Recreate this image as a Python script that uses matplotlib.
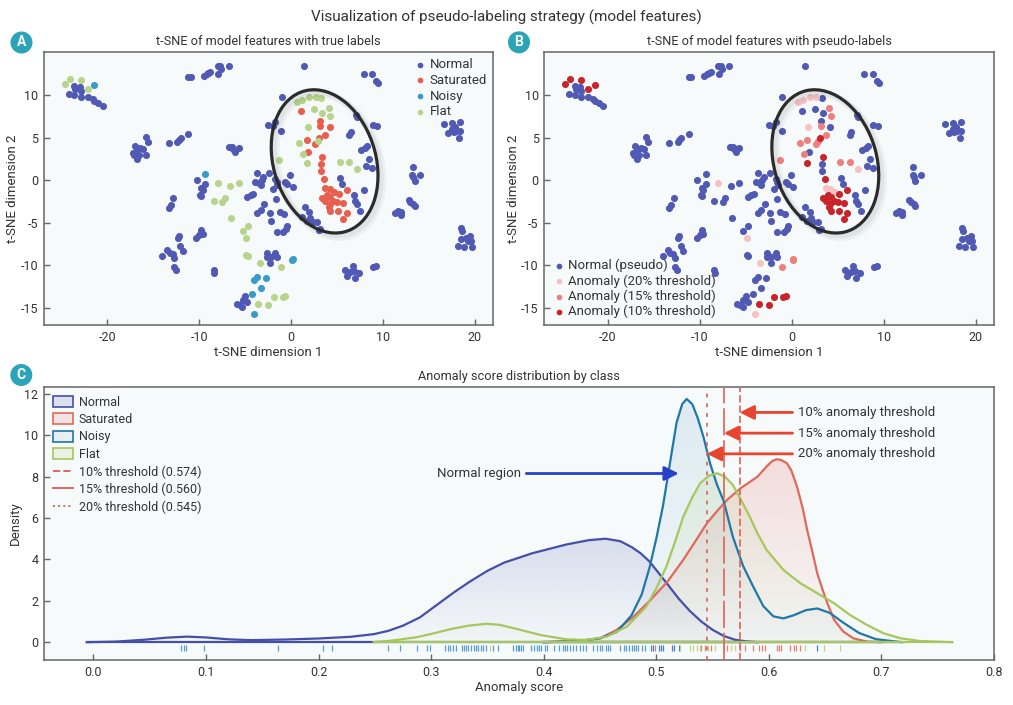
import numpy as np
import matplotlib
matplotlib.use('Agg')
import matplotlib.pyplot as plt
from matplotlib.patches import Ellipse, Circle, Patch, PathPatch
from matplotlib.lines import Line2D
from matplotlib.colors import to_rgb

plt.rcParams['font.family'] = ['Roboto', 'DejaVu Sans']
plt.rcParams['axes.unicode_minus'] = False

# ---- t-SNE points ----
normal_x = [-24.2, -23.6, -23.5, -23.0, -22.9, -23.6, -22.9, -22.1, -21.6, -21.4, -21.0, -20.5,
            -11.2, -10.9, -9.5, -9.2, -9.0, -8.8, -8.0, -7.7, -7.9, -7.6, -6.8,
            -17.0, -16.8, -16.4, -16.1, -17.2, -17.1, -16.8, -16.6, -15.8, -15.8, -15.6,
            -13.3, -12.4, -12.2, -12.0, -11.2, -6.7, -6.3, -6.1, -5.7, -6.4,
            1.4, 7.9, 8.8, 9.3, 9.5, -1.0, 7.1, 7.2, 8.9, 9.4, 6.3, 6.5, -2.5, -2.0, -1.7, -1.1,
            16.7, 17.5, 18.4, 17.1, 17.5, 18.0, 18.4, 18.3, 17.7, 17.9,
            7.6, 8.1, 8.3, 8.5, 8.8, 8.2,
            -10.25, -9.8, -9.9, -9.75, -9.6, -9.35, -12.8, -13.1, -13.3,
            -3.7, -3.9, -3.45, -3.2, -3.0, -3.3, -2.35, -1.7, -1.55, -1.5, -1.95, -1.6, -1.25, -0.75,
            -0.65, -0.4, -0.1, 0.2, -4.75, -4.4, -4.1, -2.9, -3.3, -3.7, -2.2, -2.3, -1.55, -0.85,
            -0.55, -0.4, -10.3, -10.0, -9.75, -9.6,
            -14.0, -13.5, -13.2, -12.9, -12.7, -12.7, -12.5, -12.35, -12.2, -12.05, -11.8, -8.4, -8.35,
            -2.65, -2.5, -2.65, -2.2, -1.7, -1.55, -2.25,
            -5.9, -5.6, -5.25, -5.0, -4.8, -5.3,
            5.35, 5.55, 6.9, 7.0, 7.2, 7.5, 8.0, 1.5, 2.0, 2.05, 1.15, 1.7, 2.35, 2.85, 3.0, 3.15,
            13.25, 13.2, 13.3, 13.45, 14.1, 12.8, 12.95, 13.3, 13.45, 11.3, 11.65, 11.95, 12.0,
            5.85, 6.05, 6.4, 6.7, 6.9, 7.0, 7.4, 8.95, 9.25,
            18.55, 18.65, 18.2, 18.85, 19.1, 19.45, 19.65, 19.75, 18.55, 19.3]
normal_y = [10.1, 11.1, 10.7, 10.9, 10.5, 10.0, 9.7, 9.8, 9.5, 9.3, 9.1, 8.7,
            12.1, 12.1, 12.2, 12.4, 12.6, 12.7, 13.4, 13.4, 12.5, 13.0, 13.4,
            4.0, 3.7, 3.8, 3.7, 3.2, 2.9, 2.5, 2.9, 2.9, 5.1, 4.5,
            4.35, 4.5, 4.7, 4.9, 5.4, 3.9, 3.6, 3.3, 3.8, 3.9,
            13.45, 12.5, 12.5, 11.6, 11.4, 9.8, 7.6, 7.4, 6.5, 6.3, 5.3, 5.6, 6.5, 6.4, 6.8, 5.8,
            6.6, 6.7, 6.8, 5.5, 6.0, 5.8, 5.8, 5.0, 5.6, 6.2,
            3.5, 3.8, 4.0, 2.5, 1.45, 1.7,
            0.0, -0.9, -1.7, -1.9, -1.2, -0.4, -2.1, -2.9, -3.25,
            0.85, -0.25, -0.35, 0.05, 0.35, -0.6, 0.8, 0.15, -0.25, -0.55, -1.05, -2.2, -3.75, -4.0,
            -0.25, -0.5, 0.65, -0.8, -2.0, -1.8, -1.6, -2.8, -3.45, -3.85, -4.75, -3.9, -6.1, -6.1,
            -5.75, -5.4, -6.8, -6.4, -5.9, -6.3,
            -8.9, -8.15, -8.55, -8.65, -9.15, -10.25, -10.6, -6.8, -6.5, -7.7, -8.35, -10.55, -10.85,
            -8.6, -8.9, -9.05, -9.05, -8.6, -9.05, -9.7,
            -14.55, -14.6, -14.1, -13.55, -14.35, -14.85,
            0.3, -0.5, -1.8, -2.5, -2.85, -3.65, -1.2, -3.1, -3.75, -4.4, -4.35, -4.8, -4.95, -4.95, -5.9, -5.7,
            1.55, 0.65, 0.35, -0.15, 0.65, -2.3, -2.6, -2.85, -3.0, -3.85, -3.65, -4.05, -3.7,
            -10.6, -11.25, -10.8, -10.1, -10.7, -11.5, -10.9, -10.25, -10.1,
            -5.65, -6.0, -7.75, -7.9, -6.8, -6.55, -7.2, -7.8, -6.95, -7.1]

# pseudo label codes: 0 = normal (pseudo), 20 / 15 / 10 = anomaly at that threshold
sat_x = [1.1, 3.2, 3.2, 4.2, 1.7, 3.7, 2.6, 3.1, 1.9, 3.4, 3.3, 3.3, 3.6, 3.7, 4.2, 4.7,
         3.4, 3.95, 4.3, 5.2, 6.05, 3.7, 4.2, 4.6, 5.0, 4.1, 4.3, 5.1, 5.7, 6.05, 5.7]
sat_y = [8.1, 6.9, 6.3, 6.2, 4.7, 5.3, 4.2, 4.9, 3.3, 2.75, 1.9, 1.05, 0.15, -0.9, -1.0, -1.4,
         -2.1, -1.75, -2.0, -1.6, -1.15, -2.4, -2.8, -2.4, -2.6, -3.2, -3.6, -3.6, -2.7, -3.8, -4.55]
sat_pseudo = [0, 0, 15, 0, 15, 15, 15, 10, 0, 10, 0, 0, 10, 20, 20, 20,
              10, 10, 10, 10, 10, 10, 10, 10, 10, 10, 10, 10, 10, 10, 10]

flat_x = [-24.6, -24.1, -22.9, -22.1,
          0.7, 1.2, 2.0, 2.7, 3.3, 2.5, 3.4, 4.1, 4.3, 1.8, 0.9, 1.3, 1.7, 2.9, -1.3, 5.3, 6.3, 7.2,
          -8.0, -6.6, -5.7, -8.4, -7.5, -7.2, -6.5, -5.25, -4.7, -4.9, -4.85, -4.7, -3.4, -1.1,
          -1.9, -0.9, -0.6, -3.55, -2.5]
flat_y = [11.3, 11.9, 11.8, 10.7,
          9.2, 9.4, 9.8, 9.8, 9.6, 8.3, 7.9, 8.5, 7.5, 6.2, 4.35, 3.1, 2.0, 4.6, 2.4, 2.15, 2.15, 1.3,
          -0.3, -0.7, -0.3, -2.5, -2.6, -2.1, -4.5, -6.0, -5.4, -6.8, -8.75, -8.9, -9.7, -10.2,
          -13.7, -13.7, -13.65, -14.5, -14.6]
flat_pseudo = [10, 10, 10, 10,
               20, 20, 20, 20, 0, 0, 0, 15, 15, 20, 15, 15, 10, 15, 15, 15, 15, 20,
               20, 0, 0, 0, 0, 0, 0, 0, 0, 20, 0, 0, 20, 15,
               10, 10, 10, 10, 10]

noisy_x = [-21.4, -9.35, 0.1, 0.2, -4.0, -4.0, -3.65, -2.75, -3.3, -4.2]
noisy_y = [11.2, 0.67, -9.4, -9.2, -15.65, -11.7, -11.4, -11.5, -12.7, -13.4]
noisy_pseudo = [10, 0, 15, 15, 20, 0, 0, 0, 0, 0]

# ---- density curves ----
normal_kx = [-0.006, 0.02, 0.045, 0.065, 0.083, 0.10, 0.12, 0.14, 0.17, 0.20, 0.228, 0.249, 0.262,
             0.275, 0.29, 0.305, 0.32, 0.335, 0.35, 0.365, 0.39, 0.42, 0.44, 0.455, 0.468, 0.478,
             0.486, 0.494, 0.502, 0.51, 0.52, 0.53, 0.54, 0.55, 0.56, 0.57, 0.58, 0.59]
normal_ky = [0, 0.03, 0.12, 0.22, 0.27, 0.23, 0.14, 0.10, 0.13, 0.18, 0.26, 0.39, 0.55,
             0.80, 1.2, 1.8, 2.4, 2.95, 3.45, 3.85, 4.3, 4.72, 4.93, 5.0, 4.88, 4.6,
             4.3, 3.9, 3.35, 2.8, 2.1, 1.5, 1.0, 0.6, 0.3, 0.12, 0.04, 0.0]

sat_kx = [0.40, 0.43, 0.45, 0.465, 0.48, 0.495, 0.51, 0.524, 0.535, 0.545, 0.555, 0.563, 0.575,
          0.59, 0.598, 0.603, 0.607, 0.611, 0.616, 0.62, 0.625, 0.63, 0.634, 0.639, 0.643, 0.648,
          0.652, 0.658, 0.666, 0.675, 0.687, 0.70]
sat_ky = [0.0, 0.06, 0.19, 0.6, 1.24, 2.05, 2.93, 3.98, 4.9, 5.75, 6.4, 6.88, 7.44,
          8.0, 8.49, 8.75, 8.84, 8.8, 8.65, 8.3, 7.52, 6.5, 5.43, 4.3, 3.33, 2.5,
          1.88, 1.08, 0.52, 0.19, 0.03, 0.0]

noisy_kx = [0.40, 0.43, 0.45, 0.465, 0.478, 0.487, 0.494, 0.500, 0.506, 0.512, 0.518, 0.523,
            0.527, 0.532, 0.537, 0.542, 0.548, 0.554, 0.560, 0.568, 0.577, 0.586, 0.595, 0.604,
            0.613, 0.622, 0.633, 0.643, 0.654, 0.666, 0.68, 0.695, 0.718]
noisy_ky = [0.0, 0.05, 0.19, 0.5, 1.3, 2.3, 3.6, 5.0, 6.6, 8.6, 10.6, 11.5,
            11.75, 11.5, 10.8, 9.9, 8.6, 7.6, 6.8, 5.1, 3.7, 2.7, 1.75, 1.25,
            1.15, 1.3, 1.55, 1.63, 1.42, 0.95, 0.45, 0.15, 0.0]

flat_kx = [0.249, 0.265, 0.287, 0.30, 0.317, 0.333, 0.349, 0.361, 0.379, 0.397, 0.42, 0.438,
           0.456, 0.474, 0.491, 0.50, 0.509, 0.517, 0.524, 0.532, 0.539, 0.547, 0.554, 0.561,
           0.568, 0.575, 0.583, 0.59, 0.598, 0.613, 0.628, 0.643, 0.658, 0.672, 0.687, 0.702,
           0.717, 0.734, 0.763]
flat_ky = [0.0, 0.08, 0.24, 0.4, 0.63, 0.8, 0.89, 0.84, 0.6, 0.35, 0.14, 0.11,
           0.27, 0.76, 1.72, 2.6, 3.66, 4.9, 6.07, 7.0, 7.68, 8.05, 8.16, 8.0,
           7.6, 6.9, 6.07, 5.25, 4.46, 3.49, 2.85, 2.37, 1.88, 1.32, 0.84, 0.43,
           0.19, 0.06, 0.0]

# ---- rug values ----
normal_rug = [0.078, 0.080, 0.082, 0.098, 0.164, 0.204, 0.212, 0.262, 0.272, 0.287, 0.296, 0.299,
              0.312, 0.315, 0.317, 0.319, 0.322, 0.327, 0.329, 0.331, 0.333, 0.335, 0.338, 0.340,
              0.342, 0.344, 0.346, 0.349, 0.355, 0.359, 0.373, 0.375, 0.377, 0.378, 0.380, 0.382,
              0.389, 0.391, 0.394, 0.396, 0.398, 0.401, 0.403, 0.409, 0.414, 0.417, 0.419, 0.421,
              0.423, 0.426, 0.429, 0.432, 0.435, 0.438, 0.444, 0.447, 0.450, 0.452, 0.455, 0.457,
              0.459, 0.468, 0.471, 0.473, 0.476, 0.478, 0.480, 0.482, 0.484, 0.487, 0.490]
noisy_rug = [0.495, 0.497, 0.502, 0.504, 0.506, 0.514, 0.516, 0.520, 0.643]
sat_rug = [0.499, 0.540, 0.543, 0.549, 0.563, 0.574, 0.579, 0.586, 0.591, 0.594, 0.597, 0.607,
           0.609, 0.611, 0.619, 0.622, 0.624, 0.628]
flat_rug = [0.352, 0.521, 0.530, 0.533, 0.536, 0.539, 0.546, 0.552, 0.560, 0.566, 0.570,
            0.632, 0.649, 0.663]

thresholds = [0.574, 0.560, 0.545]
thr_names = ['10%', '15%', '20%']

# ---- colours ----
c_normal = '#5059b3'
c_sat = '#e6604d'
c_noisy = '#3a9ac8'
c_flat = '#b8d48c'
c_p20, c_p15, c_p10 = '#f5c2c2', '#ee8080', '#c9232b'
k_normal, k_sat, k_noisy, k_flat = '#4450a8', '#e0695b', '#1f78a8', '#a6c75e'
c_thr = '#dc6a5e'
txt = '#333333'
bg = '#f7fafb'

fig = plt.figure(figsize=(10.13, 7.05), dpi=100)
axA = fig.add_axes([0.0434, 0.539, 0.4433, 0.3868])
axB = fig.add_axes([0.5373, 0.539, 0.4439, 0.3868])
axC = fig.add_axes([0.0434, 0.0638, 0.9378, 0.3873])


def style(ax):
    ax.set_facecolor(bg)
    for s in ax.spines.values():
        s.set_color('#666666')
        s.set_linewidth(1.1)
    ax.tick_params(direction='in', length=4, width=1, color='#666666',
                   labelsize=9, labelcolor=txt, pad=4)


ms = 26
for ax in (axA, axB):
    style(ax)
    ax.set_xlim(-26.9, 22.0)
    ax.set_ylim(-17.0, 15.0)
    ax.set_xticks([-20, -10, 0, 10, 20])
    ax.set_yticks([-15, -10, -5, 0, 5, 10])
    ax.set_xlabel('t-SNE dimension 1', fontsize=9.5, color=txt, labelpad=2)
    ax.set_ylabel('t-SNE dimension 2', fontsize=9.5, color=txt, labelpad=1)
    for off, lw, a in [(0.45, 6, 0.04), (0.3, 4, 0.05)]:
        ax.add_patch(Ellipse((3.66 + off, 2.2 - off), 11.2, 17.1, angle=14, fill=False,
                             ec='black', lw=lw, alpha=a, zorder=4))
    ax.add_patch(Ellipse((3.66, 2.2), 11.2, 17.1, angle=14, fill=False,
                         ec='#2b2b2b', lw=2.3, zorder=5))

# panel A: true labels
axA.scatter(normal_x, normal_y, s=ms, c=c_normal, lw=0, label='Normal', zorder=3)
axA.scatter(sat_x, sat_y, s=ms, c=c_sat, lw=0, label='Saturated', zorder=3)
axA.scatter(noisy_x, noisy_y, s=ms, c=c_noisy, lw=0, label='Noisy', zorder=3)
axA.scatter(flat_x, flat_y, s=ms, c=c_flat, lw=0, label='Flat', zorder=3)
axA.set_title('t-SNE of model features with true labels', fontsize=9.2, color=txt, pad=5)
axA.legend(loc='upper right', frameon=False, fontsize=9.5, handletextpad=0.1,
           labelspacing=0.2, borderaxespad=0.05, markerscale=0.8, handlelength=1.2,
           labelcolor=txt)

# panel B: pseudo labels
ox = np.array(sat_x + flat_x + noisy_x)
oy = np.array(sat_y + flat_y + noisy_y)
op = np.array(sat_pseudo + flat_pseudo + noisy_pseudo)
bx = np.concatenate([normal_x, ox[op == 0]])
by = np.concatenate([normal_y, oy[op == 0]])
axB.scatter(bx, by, s=ms, c=c_normal, lw=0, label='Normal (pseudo)', zorder=3)
for code, col in [(20, c_p20), (15, c_p15), (10, c_p10)]:
    m = op == code
    axB.scatter(ox[m], oy[m], s=ms, c=col, lw=0, zorder=3,
                label=f'Anomaly ({code}% threshold)')
axB.set_title('t-SNE of model features with pseudo-labels', fontsize=9.2, color=txt, pad=5)
axB.legend(loc='lower left', frameon=False, fontsize=9.5, handletextpad=0.1,
           labelspacing=0.15, borderaxespad=0.1, markerscale=0.8, handlelength=1.2,
           labelcolor=txt)

# panel C: score densities
style(axC)


def gradient_fill(ax, xs, ys, color, a_top, a_bot, z):
    xs = np.asarray(xs)
    ys = np.asarray(ys)
    poly = ax.fill_between(xs, ys, 0, facecolor='none', edgecolor='none')
    clip = PathPatch(poly.get_paths()[0], transform=ax.transData, fc='none', ec='none')
    ax.add_patch(clip)
    img = np.zeros((200, 1, 4))
    img[..., :3] = to_rgb(color)
    img[:, 0, 3] = np.linspace(a_top, a_bot, 200)
    im = ax.imshow(img, extent=[xs.min(), xs.max(), 0, ys.max()], aspect='auto',
                   origin='upper', zorder=z)
    im.set_clip_path(clip)


curves = [(normal_kx, normal_ky, k_normal, 0.17), (sat_kx, sat_ky, k_sat, 0.2),
          (noisy_kx, noisy_ky, k_noisy, 0.12), (flat_kx, flat_ky, k_flat, 0.14)]
for i, (kx, ky, col, a) in enumerate(curves):
    gradient_fill(axC, kx, ky, col, a, 0.02, 1 + i * 0.1)
for i, (kx, ky, col, a) in enumerate(curves):
    axC.plot(kx, ky, color=col, lw=1.6, zorder=3 + i * 0.1)
    axC.plot([kx[0], kx[-1]], [0, 0], color=col, lw=1.6, zorder=3 + i * 0.1)

for vals, col in [(normal_rug, '#3d8cc6'), (noisy_rug, '#1f6fa8'), (sat_rug, '#e0695b'),
                  (flat_rug, '#b9cf6e')]:
    axC.plot(vals, [-0.27] * len(vals), '|', ms=5, mew=0.9, color=col, alpha=0.85, zorder=3)

styles = ['--', (0, (14, 2.5)), (0, (2, 3))]
for t, ls in zip(thresholds, styles):
    axC.axvline(t, color=c_thr, lw=1.4, ls=ls, alpha=0.9, zorder=4)

for t, name, y in zip(thresholds, thr_names, [11.1, 10.1, 9.1]):
    axC.annotate(f'{name} anomaly threshold', xy=(t, y), xytext=(0.626, y),
                 fontsize=9.5, color=txt, va='center', ha='left',
                 arrowprops=dict(arrowstyle='-|>,head_length=0.9,head_width=0.45',
                                 color='#e8452e', lw=2, shrinkA=2, shrinkB=0), zorder=6)
axC.annotate('Normal region', xy=(0.52, 8.15), xytext=(0.305, 8.15), fontsize=9.5,
             color=txt, va='center', ha='left',
             arrowprops=dict(arrowstyle='-|>,head_length=0.9,head_width=0.45',
                             color='#2a40c6', lw=2, shrinkA=2, shrinkB=0), zorder=6)

axC.set_xlim(-0.044, 0.8)
axC.set_ylim(-0.86, 12.33)
axC.set_xticks(np.arange(0, 0.81, 0.1))
axC.set_xticklabels([f'{v:.1f}' for v in np.arange(0, 0.81, 0.1)])
axC.set_yticks(range(0, 13, 2))
axC.set_xlabel('Anomaly score', fontsize=9.5, color=txt, labelpad=2)
axC.set_ylabel('Density', fontsize=9.5, color=txt, labelpad=2)
axC.set_title('Anomaly score distribution by class', fontsize=9.2, color=txt, pad=5)

handles = [Patch(fc=to_rgb(k_normal) + (0.15,), ec=k_normal, lw=1.2, label='Normal'),
           Patch(fc=to_rgb(k_sat) + (0.15,), ec=k_sat, lw=1.2, label='Saturated'),
           Patch(fc=to_rgb(k_noisy) + (0.08,), ec=k_noisy, lw=1.2, label='Noisy'),
           Patch(fc=to_rgb(k_flat) + (0.15,), ec=k_flat, lw=1.2, label='Flat')]
for t, name, ls in zip(thresholds, thr_names, ['--', '-', ':']):
    handles.append(Line2D([], [], color=c_thr, lw=1.4, ls=ls, label=f'{name} threshold ({t:.3f})'))
axC.legend(handles=handles, loc='upper left', frameon=False, fontsize=9,
           labelspacing=0.35, handlelength=1.6, handleheight=1.0, handletextpad=0.5,
           borderaxespad=0.3, labelcolor=txt)

fig.text(0.5, 0.976, 'Visualization of pseudo-labeling strategy (model features)',
         ha='center', va='center', fontsize=11, color=txt)

for cx, cy, letter in [(21.5, 42.5, 'A'), (519, 42.3, 'B'), (21.3, 375, 'C')]:
    fig.patches.append(Circle((cx / 100, (705 - cy) / 100), 0.11,
                              transform=fig.dpi_scale_trans, fc='#2ba4b7', ec='none'))
    fig.text(cx / 1013, 1 - cy / 705, letter, ha='center', va='center', color='white',
             fontsize=10, fontweight='bold')

fig.savefig('out.png', dpi=100, facecolor='white')
